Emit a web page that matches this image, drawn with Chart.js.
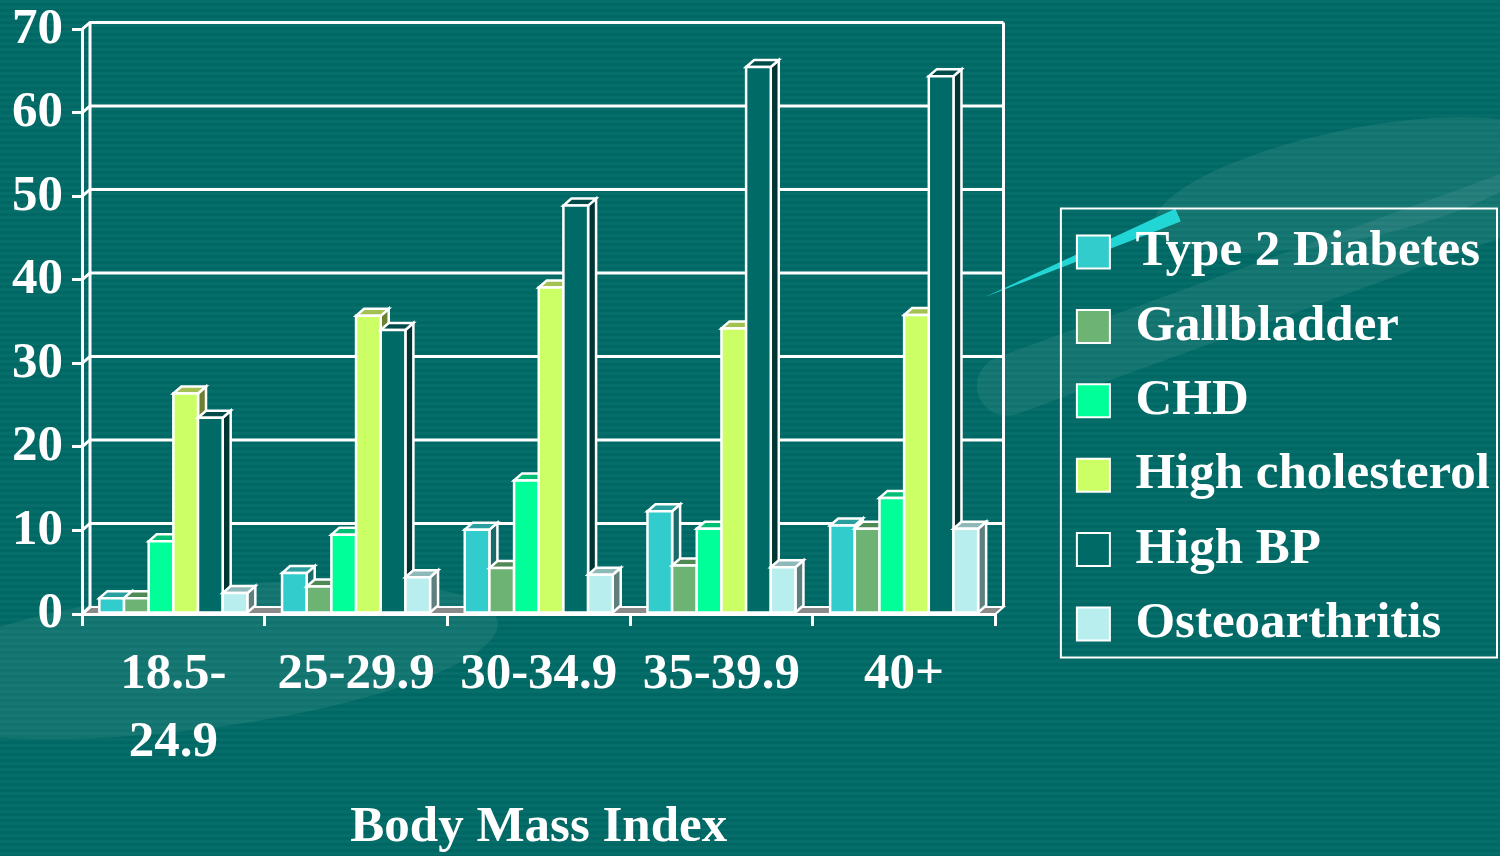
<!DOCTYPE html>
<html>
<head>
<meta charset="utf-8">
<script src="https://cdn.jsdelivr.net/npm/chart.js@4/dist/chart.umd.min.js"></script>
<style>
html, body { margin: 0; padding: 0; }
body {
  width: 1500px; height: 856px; overflow: hidden; position: relative;
  background-color: #006a66;
  background-image: repeating-linear-gradient(180deg, rgba(255,255,255,0.025) 0px, rgba(255,255,255,0.025) 3px, rgba(0,0,0,0.025) 3px, rgba(0,0,0,0.025) 6px);
}
.swoosh { position: absolute; background: rgba(255,255,255,0.07); }
#streak { position: absolute; left: 985px; top: 290px; width: 210px; height: 14px; background: #22d6d6;
  transform-origin: 0 50%; transform: rotate(-23deg); clip-path: polygon(0 50%, 100% 0, 100% 100%); }
#chart { position: absolute; left: 0; top: 0; }
</style>
</head>
<body>
<div class="swoosh" style="left:-120px;top:590px;width:620px;height:140px;border-radius:50%;transform:rotate(-7deg)"></div>
<div class="swoosh" style="left:960px;top:260px;width:620px;height:60px;border-radius:40px;transform:rotate(-20deg)"></div>
<div class="swoosh" style="left:1150px;top:130px;width:400px;height:110px;border-radius:50%;transform:rotate(-12deg)"></div>
<div id="streak"></div>
<canvas id="chart" width="1500" height="856"></canvas>
<script>
// BMI groups and disease prevalence (%)
const categories = [['18.5-', '24.9'], '25-29.9', '30-34.9', '35-39.9', '40+']
const seriesNames = ['Type 2 Diabetes', 'Gallbladder', 'CHD', 'High cholesterol', 'High BP', 'Osteoarthritis']
const diabetes    = [1.9, 4.9, 10.1, 12.3, 10.6]
const gallbladder = [1.9, 3.3, 5.5, 5.8, 10.2]
const chd         = [8.7, 9.5, 16.0, 10.2, 13.9]
const cholesterol = [26.4, 35.7, 39.1, 34.2, 35.8]
const highBP      = [23.5, 34.0, 48.9, 65.5, 64.4]
const osteo       = [2.5, 4.4, 4.7, 5.6, 10.2]
const yMax = 70
const yStep = 10

const frontColors = ['#33cccc', '#6db373', '#00ff99', '#ccff66', '#006a66', '#b8eeee']
const topColors   = ['#2a9f9f', '#4f8a55', '#00bf75', '#a3c152', '#004c4a', '#8fb8b8']
const sideColors  = ['#1c6b6b', '#3b6a40', '#00804f', '#6b8030', '#003533', '#5f7f7f']

const DX = 8, DY = -7   // depth of the 3d effect
const FONT = "'Liberation Serif', 'Times New Roman', serif"

Chart.defaults.font.family = FONT
Chart.defaults.color = '#fff'

function poly(ctx, pts, fill) {
    ctx.beginPath()
    ctx.moveTo(pts[0][0], pts[0][1])
    for (let k = 1; k < pts.length; k++) ctx.lineTo(pts[k][0], pts[k][1])
    ctx.closePath()
    ctx.fillStyle = fill
    ctx.fill()
    ctx.stroke()
}

const threeD = {
    id: 'threeD',
    beforeDatasetsDraw(chart) {
        const ctx = chart.ctx, a = chart.chartArea, y = chart.scales.y
        ctx.save()
        ctx.strokeStyle = '#fff'
        ctx.lineWidth = 2
        // floor
        poly(ctx, [[a.left, a.bottom], [a.right, a.bottom], [a.right + DX, a.bottom + DY], [a.left + DX, a.bottom + DY]], '#8a8a8a')
        ctx.lineWidth = 3
        // back wall grid
        y.ticks.forEach(t => {
            const py = y.getPixelForValue(t.value)
            ctx.beginPath()
            ctx.moveTo(a.left, py)
            ctx.lineTo(a.left + DX, py + DY)
            if (t.value > 0) ctx.lineTo(a.right + DX, py + DY)
            ctx.stroke()
        })
        ctx.beginPath()
        ctx.moveTo(a.left + DX, a.top + DY)
        ctx.lineTo(a.left + DX, a.bottom + DY)
        ctx.moveTo(a.right + DX, a.top + DY)
        ctx.lineTo(a.right + DX, a.bottom + DY)
        ctx.stroke()
        ctx.restore()
    },
    afterDatasetsDraw(chart) {
        const ctx = chart.ctx
        ctx.save()
        ctx.strokeStyle = '#fff'
        ctx.lineWidth = 2.5
        for (let j = 0; j < chart.data.labels.length; j++) {
            chart.data.datasets.forEach((ds, i) => {
                const el = chart.getDatasetMeta(i).data[j]
                const p = el.getProps(['x', 'y', 'base', 'width'], true)
                const l = p.x - p.width / 2, r = p.x + p.width / 2
                poly(ctx, [[r, p.y], [r + DX, p.y + DY], [r + DX, p.base + DY], [r, p.base]], sideColors[i])
                poly(ctx, [[l, p.y], [l + DX, p.y + DY], [r + DX, p.y + DY], [r, p.y]], topColors[i])
                poly(ctx, [[l, p.y], [r, p.y], [r, p.base], [l, p.base]], frontColors[i])
            })
        }
        ctx.restore()
    },
    afterDraw(chart) {
        const ctx = chart.ctx, lg = chart.legend, hb = lg.legendHitBoxes
        if (!hb || !hb.length) return
        const last = hb[hb.length - 1]
        const left = hb[0].left - 16, top = hb[0].top - 18
        const right = lg.right - 3, bottom = last.top + last.height + 8
        ctx.save()
        ctx.strokeStyle = '#fff'
        ctx.lineWidth = 2
        ctx.strokeRect(left, top, right - left, bottom - top)
        ctx.restore()
    }
}

const seriesValues = [diabetes, gallbladder, chd, cholesterol, highBP, osteo]

var ctx = document.getElementById('chart').getContext('2d')
var chart = new Chart(ctx, {
    type: 'bar',
    data: {
        labels: categories,
        datasets: seriesNames.map((name, i) => ({
            label: name,
            data: seriesValues[i],
            backgroundColor: frontColors[i],
            borderColor: '#fff',
            borderWidth: 2,
            categoryPercentage: 0.81,
            barPercentage: 1.0
        }))
    },
    options: {
        responsive: false,
        animation: false,
        layout: { padding: { top: 20, left: 0, right: 0, bottom: 0 } },
        plugins: {
            tooltip: { enabled: false },
            legend: {
                position: 'right',
                maxWidth: 470,
                labels: {
                    color: '#fff',
                    font: { family: FONT, size: 51, weight: 'bold' },
                    boxWidth: 33,
                    boxHeight: 33,
                    padding: 23.4
                }
            }
        },
        scales: {
            x: {
                offset: true,
                ticks: {
                    color: '#fff',
                    font: { family: FONT, size: 51, weight: 'bold', lineHeight: 1.333 },
                    padding: 15,
                    maxRotation: 0,
                    autoSkip: false
                },
                grid: { offset: true, drawOnChartArea: false, color: '#fff', lineWidth: 3, tickLength: 12 },
                border: { color: '#fff', width: 3 },
                title: {
                    display: true,
                    text: 'Body Mass Index',
                    color: '#fff',
                    font: { family: FONT, size: 51, weight: 'bold', lineHeight: 1.1 },
                    padding: 0
                },
                afterFit: s => { s.height = 242 }
            },
            y: {
                min: 0,
                max: yMax,
                ticks: {
                    stepSize: yStep,
                    color: '#fff',
                    font: { family: FONT, size: 51, weight: 'bold', lineHeight: 0.8 },
                    padding: 9
                },
                grid: { drawOnChartArea: false, color: '#fff', lineWidth: 3, tickLength: 10 },
                border: { color: '#fff', width: 3 },
                afterFit: s => { s.width = 82 }
            },
            gap: {
                type: 'linear',
                position: 'right',
                display: true,
                grid: { display: false },
                ticks: { display: false },
                border: { display: false },
                afterFit: s => { s.width = 58 }
            }
        }
    },
    plugins: [threeD]
})
</script>
</body>
</html>
